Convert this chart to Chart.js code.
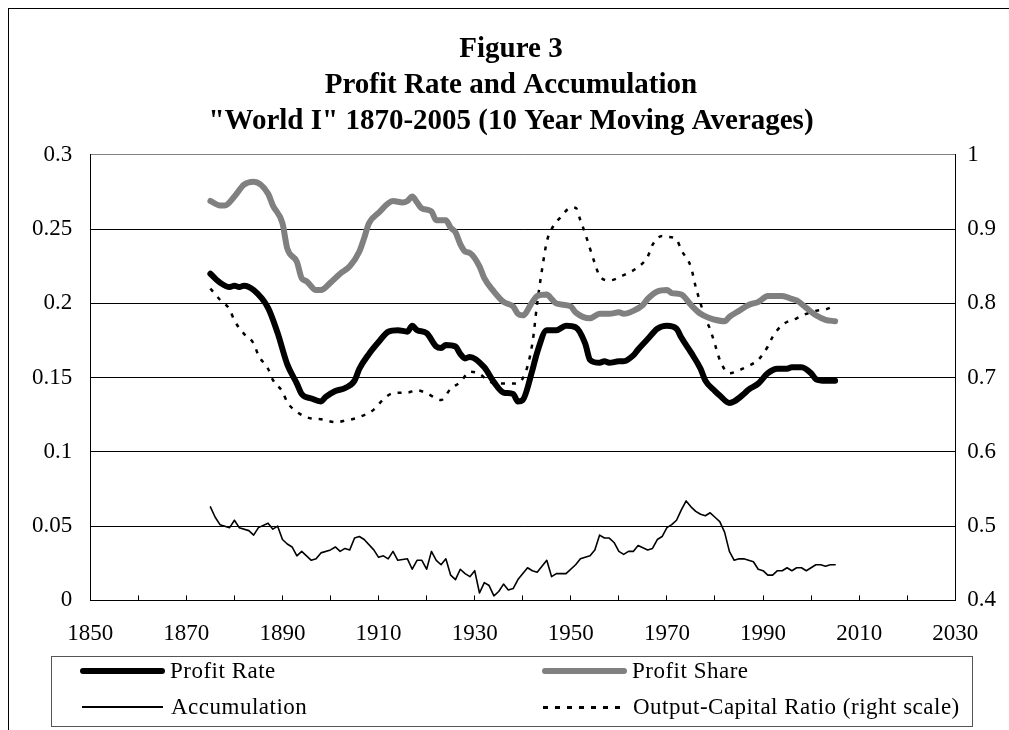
<!DOCTYPE html>
<html lang="en">
<head>
    <meta charset="UTF-8">
    <title>Figure 3 - Profit Rate and Accumulation</title>
    <script src="https://cdn.jsdelivr.net/npm/chart.js"></script>
    <style>
        body {
            margin: 0;
            background-color: #ffffff;
            width: 1009px;
            height: 730px;
            overflow: hidden;
            position: relative;
            font-family: "Liberation Serif", "Times New Roman", serif;
        }
        .frame {
            position: absolute;
            left: 8px;
            top: 8px;
            width: 1100px;
            height: 800px;
            border-left: 1px solid #000;
            border-top: 1px solid #000;
        }
        .chart-box {
            position: absolute;
            left: 0;
            top: 0;
            width: 1009px;
            height: 680px;
        }
        .legend {
            position: absolute;
            left: 51px;
            top: 656px;
            width: 920px;
            height: 69px;
            border: 1px solid #555;
        }
        .item {
            position: absolute;
            height: 30px;
            display: flex;
            align-items: center;
            font-size: 23px;
            letter-spacing: 0.5px;
            color: #000;
            white-space: nowrap;
        }
        .sample {
            width: 85px;
            margin-right: 5px;
        }
        .thick-black { height: 6px; background: #000; border-radius: 3px; }
        .thick-grey { height: 6px; background: #808080; border-radius: 3px; }
        .thin { height: 2px; background: #000; }
        .dots { height: 3px; background: repeating-linear-gradient(to right, #000 0 5px, transparent 5px 12px); }
    </style>
</head>
<body>
<div class="frame"></div>
<div class="chart-box"><canvas id="chart"></canvas></div>
<div class="legend">
    <div class="item" style="left:28px; top:-1px;"><div class="sample thick-black"></div>Profit Rate</div>
    <div class="item" style="left:490px; top:-1px;"><div class="sample thick-grey"></div>Profit Share</div>
    <div class="item" style="left:30px; top:35px;"><div class="sample thin" style="width:81px; margin-right:8px;"></div>Accumulation</div>
    <div class="item" style="left:491px; top:35px;"><div class="sample dots" style="width:82px; margin-right:8px;"></div>Output-Capital Ratio (right scale)</div>
</div>

<script>
    const titleLines = ['Figure 3', 'Profit Rate and Accumulation', '"World I" 1870-2005 (10 Year Moving Averages)'];

    // profit rate (left scale)
    const prYears = [1875, 1877, 1879, 1880, 1881, 1882, 1884, 1887, 1889, 1891, 1893, 1894, 1896, 1898, 1899,
        1901, 1903, 1905, 1906, 1908, 1910, 1912, 1914, 1916, 1917, 1918, 1920, 1922, 1923, 1924, 1926, 1927,
        1928, 1929, 1932, 1934, 1936, 1938, 1939, 1940, 1942, 1943, 1945, 1947, 1949, 1951, 1953, 1954, 1956,
        1957, 1958, 1960, 1961, 1963, 1964, 1966, 1968, 1970, 1972, 1973, 1975, 1977, 1978, 1980, 1981, 1983,
        1984, 1986, 1987, 1989, 1991, 1993, 1995, 1996, 1998, 2000, 2001, 2003, 2005];
    const prValues = [0.220, 0.214, 0.211, 0.212, 0.211, 0.212, 0.209, 0.197, 0.180, 0.159, 0.146, 0.139, 0.136, 0.134, 0.137,
        0.141, 0.143, 0.148, 0.156, 0.166, 0.174, 0.181, 0.182, 0.181, 0.185, 0.182, 0.180, 0.171, 0.170, 0.172, 0.171, 0.166,
        0.163, 0.164, 0.157, 0.147, 0.140, 0.139, 0.134, 0.135, 0.155, 0.167, 0.182, 0.182, 0.185, 0.184, 0.173, 0.162, 0.160,
        0.161, 0.160, 0.161, 0.161, 0.165, 0.169, 0.176, 0.183, 0.185, 0.183, 0.177, 0.167, 0.156, 0.148, 0.141, 0.138, 0.133,
        0.134, 0.139, 0.142, 0.146, 0.153, 0.156, 0.156, 0.157, 0.157, 0.153, 0.149, 0.148, 0.148];

    // profit share (left scale)
    const psYears = [1875, 1877, 1878, 1880, 1882, 1884, 1887, 1888, 1890, 1891, 1893, 1894, 1895, 1897, 1898, 1900,
        1902, 1904, 1906, 1907, 1908, 1910, 1913, 1915, 1916, 1917, 1918, 1919, 1921, 1922, 1924, 1925, 1926, 1927,
        1928, 1929, 1931, 1932, 1934, 1936, 1938, 1939, 1940, 1942, 1943, 1945, 1946, 1947, 1950, 1951, 1954, 1956,
        1958, 1960, 1961, 1963, 1965, 1966, 1968, 1970, 1971, 1973, 1975, 1977, 1979, 1980, 1982, 1983, 1985, 1987,
        1989, 1991, 1994, 1996, 1997, 1999, 2001, 2003, 2005];
    const psValues = [0.269, 0.266, 0.266, 0.272, 0.280, 0.282, 0.274, 0.266, 0.254, 0.237, 0.228, 0.217, 0.215, 0.209, 0.209, 0.214,
        0.220, 0.225, 0.235, 0.244, 0.254, 0.261, 0.269, 0.268, 0.269, 0.272, 0.268, 0.264, 0.262, 0.256, 0.256, 0.251, 0.248, 0.240,
        0.235, 0.234, 0.225, 0.217, 0.208, 0.201, 0.198, 0.193, 0.192, 0.201, 0.205, 0.206, 0.203, 0.200, 0.198, 0.194, 0.190, 0.193,
        0.193, 0.194, 0.193, 0.195, 0.199, 0.203, 0.208, 0.209, 0.207, 0.206, 0.199, 0.193, 0.190, 0.189, 0.188, 0.191, 0.195, 0.199,
        0.201, 0.205, 0.205, 0.203, 0.202, 0.197, 0.192, 0.189, 0.188];

    // accumulation (left scale)
    const accYears = [1875, 1876, 1877, 1879, 1880, 1881, 1883, 1884, 1885, 1887, 1888, 1889, 1890, 1891, 1892, 1893,
        1894, 1896, 1897, 1898, 1900, 1901, 1902, 1903, 1904, 1905, 1906, 1907, 1909, 1910, 1911, 1912, 1913, 1914,
        1916, 1917, 1918, 1919, 1920, 1921, 1922, 1923, 1924, 1925, 1926, 1927, 1928, 1929, 1930, 1931, 1932, 1933,
        1934, 1935, 1936, 1937, 1938, 1939, 1941, 1942, 1943, 1945, 1946, 1947, 1949, 1951, 1952, 1954, 1955, 1956,
        1957, 1958, 1959, 1960, 1961, 1962, 1963, 1964, 1966, 1967, 1968, 1969, 1970, 1971, 1972, 1973, 1974, 1975,
        1976, 1977, 1978, 1979, 1980, 1981, 1982, 1983, 1984, 1985, 1986, 1988, 1989, 1990, 1991, 1992, 1993, 1994,
        1995, 1996, 1997, 1998, 1999, 2000, 2001, 2002, 2003, 2004, 2005];
    const accValues = [0.063, 0.056, 0.051, 0.049, 0.054, 0.049, 0.047, 0.044, 0.049, 0.052, 0.048, 0.050, 0.041, 0.038, 0.036, 0.030,
        0.033, 0.027, 0.028, 0.032, 0.034, 0.036, 0.033, 0.035, 0.034, 0.042, 0.043, 0.041, 0.034, 0.029, 0.030, 0.028, 0.033, 0.027,
        0.028, 0.021, 0.027, 0.027, 0.021, 0.033, 0.027, 0.024, 0.028, 0.017, 0.014, 0.021, 0.018, 0.016, 0.020, 0.005, 0.012, 0.010,
        0.003, 0.006, 0.011, 0.007, 0.008, 0.014, 0.022, 0.020, 0.019, 0.027, 0.016, 0.018, 0.018, 0.024, 0.028, 0.030, 0.034, 0.044,
        0.042, 0.042, 0.039, 0.033, 0.031, 0.033, 0.033, 0.037, 0.034, 0.035, 0.041, 0.043, 0.049, 0.051, 0.054, 0.061, 0.067, 0.063,
        0.060, 0.058, 0.057, 0.059, 0.056, 0.053, 0.046, 0.033, 0.027, 0.028, 0.028, 0.026, 0.021, 0.020, 0.017, 0.017, 0.020, 0.020,
        0.022, 0.020, 0.022, 0.022, 0.020, 0.022, 0.024, 0.024, 0.023, 0.024, 0.024];

    // output-capital ratio (right scale)
    const ocrYears = [1875, 1877, 1879, 1880, 1882, 1884, 1885, 1887, 1888, 1890, 1891, 1893, 1896, 1898, 1901, 1903,
        1906, 1909, 1911, 1913, 1916, 1918, 1920, 1922, 1923, 1925, 1927, 1929, 1931, 1933, 1936, 1938, 1940, 1942,
        1943, 1944, 1945, 1946, 1948, 1950, 1951, 1952, 1953, 1955, 1956, 1958, 1961, 1964, 1966, 1967, 1969, 1970,
        1972, 1973, 1975, 1976, 1977, 1978, 1979, 1980, 1981, 1983, 1985, 1987, 1989, 1991, 1992, 1994, 1997, 1999,
        2001, 2003, 2005];
    const ocrValues = [0.820, 0.805, 0.792, 0.777, 0.759, 0.746, 0.730, 0.712, 0.697, 0.681, 0.667, 0.654, 0.645, 0.644, 0.640, 0.642,
        0.647, 0.657, 0.671, 0.679, 0.680, 0.683, 0.679, 0.672, 0.670, 0.685, 0.694, 0.708, 0.705, 0.695, 0.692, 0.692, 0.699, 0.746,
        0.800, 0.845, 0.883, 0.900, 0.917, 0.929, 0.929, 0.912, 0.894, 0.854, 0.837, 0.831, 0.838, 0.849, 0.863, 0.879, 0.891, 0.890,
        0.886, 0.872, 0.849, 0.822, 0.800, 0.780, 0.765, 0.745, 0.724, 0.706, 0.710, 0.716, 0.724, 0.742, 0.755, 0.771, 0.780, 0.786,
        0.790, 0.792, 0.797];

    const serif = '"Liberation Serif", "Times New Roman", serif';

    function pairs(xs, ys) {
        return xs.map((x, i) => ({x: x, y: ys[i]}));
    }

    new Chart(document.getElementById('chart'), {
        type: 'line',
        data: {
            datasets: [{
                label: 'Profit Rate',
                data: pairs(prYears, prValues),
                borderColor: '#000000',
                borderWidth: 6,
                cubicInterpolationMode: 'monotone',
                yAxisID: 'y'
            }, {
                label: 'Profit Share',
                data: pairs(psYears, psValues),
                borderColor: '#808080',
                borderWidth: 6,
                cubicInterpolationMode: 'monotone',
                yAxisID: 'y'
            }, {
                label: 'Accumulation',
                data: pairs(accYears, accValues),
                borderColor: '#000000',
                borderWidth: 1.6,
                tension: 0,
                yAxisID: 'y'
            }, {
                label: 'Output-Capital Ratio (right scale)',
                data: pairs(ocrYears, ocrValues),
                borderColor: '#000000',
                borderWidth: 2.5,
                borderDash: [4, 7],
                borderCapStyle: 'butt',
                cubicInterpolationMode: 'monotone',
                yAxisID: 'y1'
            }]
        },
        options: {
            responsive: true,
            maintainAspectRatio: false,
            animation: false,
            layout: {
                // tick padding counts twice in axis width, hence the small numbers
                padding: {left: 14, right: 1, top: 0, bottom: 7}
            },
            elements: {
                point: {radius: 0},
                line: {borderCapStyle: 'round', borderJoinStyle: 'round', fill: false}
            },
            plugins: {
                legend: {display: false},
                tooltip: {enabled: false},
                title: {
                    display: true,
                    text: titleLines,
                    color: '#000000',
                    font: {family: serif, size: 29, weight: 'bold', lineHeight: 1.241},
                    padding: {top: 32, bottom: 15}
                }
            },
            scales: {
                x: {
                    type: 'linear',
                    min: 1850,
                    max: 2030,
                    ticks: {
                        stepSize: 10,
                        autoSkip: false,
                        maxRotation: 0,
                        padding: 25,
                        color: '#000000',
                        font: {family: serif, size: 23},
                        callback: v => (v % 20 === 10 ? String(v) : '')
                    },
                    grid: {drawOnChartArea: false, drawTicks: true, tickLength: -5, color: '#000000', lineWidth: 1},
                    border: {display: true, color: '#000000', width: 1}
                },
                y: {
                    position: 'left',
                    min: 0,
                    max: 0.3,
                    ticks: {
                        stepSize: 0.05,
                        padding: 18,
                        color: '#000000',
                        font: {family: serif, size: 23},
                        callback: v => String(+v.toFixed(2))
                    },
                    grid: {
                        drawTicks: false,
                        lineWidth: 1,
                        color: ctx => (ctx.tick && ctx.tick.value > 0.299 ? '#808080' : '#000000')
                    },
                    border: {display: true, color: '#000000', width: 1}
                },
                y1: {
                    position: 'right',
                    min: 0.4,
                    max: 1,
                    ticks: {
                        stepSize: 0.1,
                        padding: 12,
                        color: '#000000',
                        font: {family: serif, size: 23},
                        callback: v => String(+v.toFixed(1))
                    },
                    grid: {drawOnChartArea: false, drawTicks: false},
                    border: {display: true, color: '#000000', width: 1}
                }
            }
        }
    });
</script>
</body>
</html>
